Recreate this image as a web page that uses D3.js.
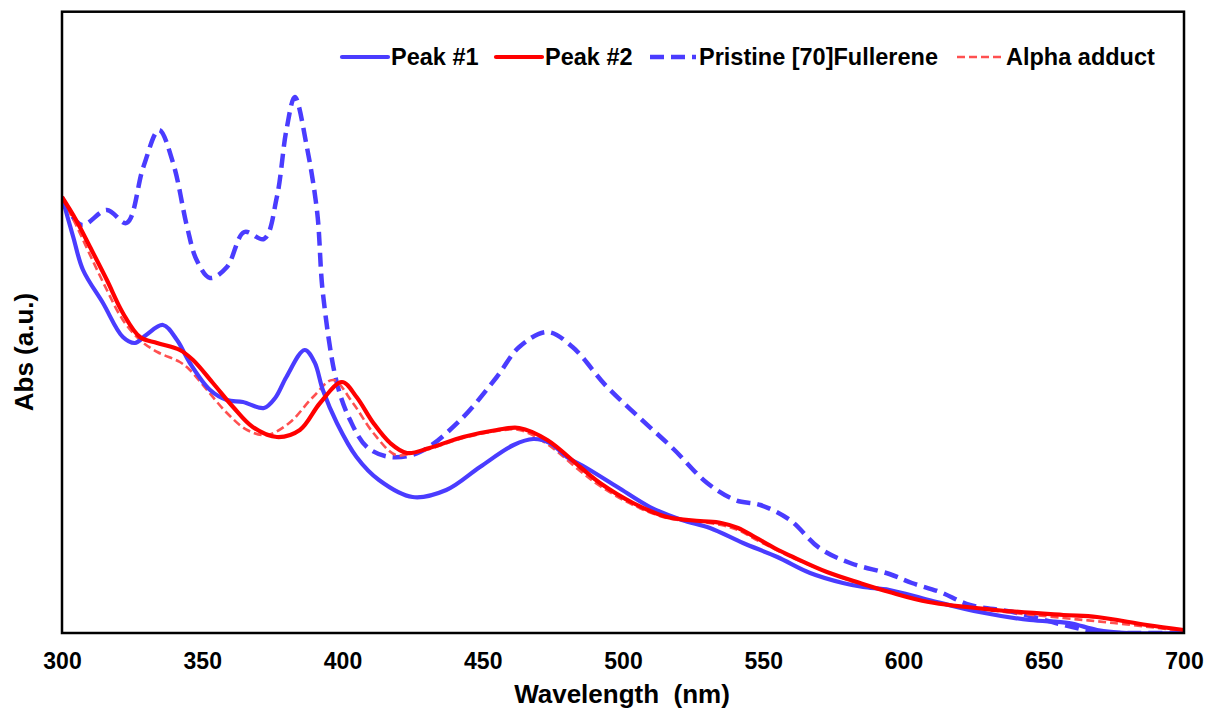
<!DOCTYPE html>
<html>
<head>
<meta charset="utf-8">
<script src="https://cdn.jsdelivr.net/npm/d3@7"></script>
<style>
  html, body { margin: 0; padding: 0; background: #fff; }
  svg { display: block; font-family: "Liberation Sans", Arial, sans-serif; }
</style>
</head>
<body>
<svg id="chart" width="1207" height="713"></svg>
<script>
// ---- Data (absorbance in arbitrary units) ----
const xTicks = [300, 350, 400, 450, 500, 550, 600, 650, 700];

const pristineNm = [300,307,316,323,329,334.6,339.6,344.6,348,352.8,358.8,365,372,376.6,380,383,387.3,391,393,398,402.7,408.7,417,427.6,442,455,463,473,482,494,506,518,530,540,549,559.5,570,581,595,603,613,623.7,639,657,669,680,700];
const pristineAbs = [435,408,423,410,466,503,470,406,373,355,366,401,394,436,503,536,486,420,340,250,213,186,176,181,213,256,286,301,286,247,215,184,150,133,128,113,85,70,59,50,41,28,21,8,1,0,0];

const peak1Nm = [300,304,307.5,314.6,321.7,326,330,336,341,345.6,352.8,358.8,364.5,372,376,380,386.5,390,393,398,405,413,425,437,449,461,468,474,480,487,498,509.6,521,531,542.8,555,566.7,578.4,585.6,595,609,627,645,659,669,680,700];
const peak1Abs = [436,396,363,330,296,290,298,308,293,270,243,233,231,225,235,256,283,271,243,210,176,153,136,143,166,188,194,190,176,165,146,126,113,105,90,76,60,50,46,43,33,21,13,10,3,0,0];

const peak2Nm = [300,305,310,316,321.7,327.8,333.9,342,346.7,353.8,361,368,376.6,384.8,392,399.8,405,411,417,423,431,443,455,463,473,484.7,491.8,503.6,515.7,527.5,535,541,547,554,560.6,572.7,584.5,595,609,633,657,669,686.8,700];
const peak2Abs = [436,413,386,353,320,296,290,283,273,250,226,206,196,203,230,251,236,210,190,180,185,196,203,205,193,166,150,130,116,112,110,105,96,85,76,61,50,41,31,23,18,16,8,3];

const alphaNm = [300,305,310,316,321.7,327.8,334,342,345.6,351.7,358.8,366,373,381,389.5,396.6,403.7,411,419,425,431,443,455,463,473,484.7,491.8,503.6,515.7,527.5,535,541,547,554,560.6,572.7,584.5,595,609,633,657,675,700];
const alphaAbs = [435,408,378,343,313,293,281,271,263,243,220,203,198,210,236,253,230,200,178,180,184,195,202,203,189,162,147,128,115,111,108,103,94,84,75,61,49,41,31,22,15,10,2];

const seriesNames = ["Peak #1", "Peak #2", "Pristine [70]Fullerene", "Alpha adduct"];

// ---- Layout ----
const svg = d3.select("#chart");
const plot = { left: 62, top: 11.7, right: 1184, bottom: 633 };

const x = d3.scaleLinear().domain([300, 700]).range([plot.left, plot.right]);
const y = d3.scaleLinear().domain([0, 621.3]).range([plot.bottom, plot.top]);

svg.append("defs").append("clipPath").attr("id", "clip")
  .append("rect")
  .attr("x", plot.left).attr("y", plot.top)
  .attr("width", plot.right - plot.left).attr("height", plot.bottom - plot.top);

const blue = "#4a3cff";
const red = "#ff0000";
const pink = "#ff5050";

const styles = [
  { name: seriesNames[2], nm: pristineNm, abs: pristineAbs, color: blue, width: 4.5, dash: "14,7" },
  { name: seriesNames[3], nm: alphaNm, abs: alphaAbs, color: pink, width: 2.6, dash: "8,4" },
  { name: seriesNames[0], nm: peak1Nm, abs: peak1Abs, color: blue, width: 4.2, dash: null },
  { name: seriesNames[1], nm: peak2Nm, abs: peak2Abs, color: red, width: 4.2, dash: null }
];

const line = d3.line()
  .x(d => x(d[0]))
  .y(d => y(d[1]))
  .curve(d3.curveCatmullRom.alpha(0.5));

const g = svg.append("g").attr("clip-path", "url(#clip)");
styles.forEach(s => {
  const pts = s.nm.map((v, i) => [v, s.abs[i]]);
  g.append("path")
    .datum(pts)
    .attr("fill", "none")
    .attr("stroke", s.color)
    .attr("stroke-width", s.width)
    .attr("stroke-dasharray", s.dash)
    .attr("stroke-linejoin", "round")
    .attr("d", line);
});

// ---- Frame ----
svg.append("rect")
  .attr("x", plot.left).attr("y", plot.top)
  .attr("width", plot.right - plot.left).attr("height", plot.bottom - plot.top)
  .attr("fill", "none").attr("stroke", "#000").attr("stroke-width", 2.5);

// ---- X axis ----
const xAxis = d3.axisBottom(x).tickValues(xTicks).tickSize(0).tickPadding(0).tickFormat(d3.format("d"));
const ax = svg.append("g").attr("transform", `translate(0,${plot.bottom})`).call(xAxis);
ax.select(".domain").remove();
ax.selectAll("text")
  .attr("dy", null)
  .attr("y", 36)
  .attr("fill", "#000")
  .style("font-family", "'Liberation Sans', Arial, sans-serif")
  .style("font-weight", "bold")
  .style("font-size", "23px");

// ---- Axis titles ----
svg.append("text")
  .attr("x", (plot.left + plot.right) / 2 - 1)
  .attr("y", 703)
  .attr("text-anchor", "middle")
  .style("font-weight", "bold")
  .style("font-size", "26px")
  .style("white-space", "pre")
  .text("Wavelength  (nm)");

svg.append("text")
  .attr("transform", "translate(33,352) rotate(-90)")
  .attr("text-anchor", "middle")
  .style("font-weight", "bold")
  .style("font-size", "26px")
  .text("Abs (a.u.)");

// ---- Legend ----
const legendItems = [
  { name: seriesNames[0], x0: 342, color: blue, width: 4.2, dash: null },
  { name: seriesNames[1], x0: 496, color: red, width: 4.2, dash: null },
  { name: seriesNames[2], x0: 650, color: blue, width: 4.5, dash: "14,7" },
  { name: seriesNames[3], x0: 957, color: pink, width: 2.6, dash: "8,4" }
];
const legY = 57;
legendItems.forEach(it => {
  svg.append("line")
    .attr("x1", it.x0).attr("x2", it.x0 + 46)
    .attr("y1", legY).attr("y2", legY)
    .attr("stroke", it.color)
    .attr("stroke-width", it.width)
    .attr("stroke-dasharray", it.dash)
    .attr("stroke-linecap", it.dash ? "butt" : "round");
  svg.append("text")
    .attr("x", it.x0 + 49)
    .attr("y", legY + 8)
    .style("font-weight", "bold")
    .style("font-size", "23.5px")
    .text(it.name);
});
</script>
</body>
</html>
